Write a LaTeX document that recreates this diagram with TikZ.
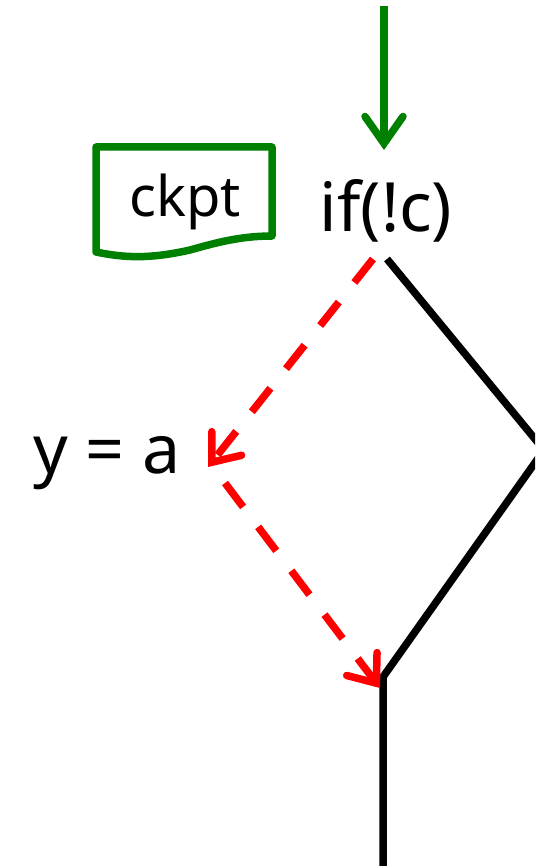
\documentclass[tikz,border=0pt]{standalone}
\usepackage{fontspec}
\setmainfont{Noto Sans}
\usetikzlibrary{arrows.meta}
\definecolor{grn}{RGB}{0,128,0}
\tikzset{
 lbl/.style={inner sep=0pt,anchor=base,text=black},
 blk/.style={draw=black,line width=7.5pt,line join=miter},
 redd/.style={draw=red,line width=7.5pt,dash pattern=on 30pt off 25pt,-{Straight Barb[length=24pt,width=38pt,line width=7.5pt,line cap=round,line join=miter]}},
}
\begin{document}
\begin{tikzpicture}[x=1pt,y=-1pt]
\useasboundingbox (0,0) rectangle (535,866);
\clip (0,0) rectangle (535,866);
\node[lbl,font=\fontsize{68}{72}\selectfont] (cond) at (386,232) {if(!c)};
\node[lbl,font=\fontsize{68}{72}\selectfont] (assign) at (107,473) {y = a};
\coordinate (ckpos) at (185,217);
\coordinate (top) at (384,6);
\coordinate (condtip) at (384,150);
\coordinate (right) at (544,450);
\coordinate (condr) at (387,259);
\coordinate (condl) at (373,259);
\coordinate (yin) at (208,467);
\coordinate (yout) at (225,483);
\coordinate (joinin) at (380,688);
\coordinate (join) at (383,677);
\coordinate (bot) at (383,866);
\draw[draw=grn,line width=7.5pt,-{Straight Barb[length=27pt,width=38pt,line width=7.5pt,line cap=round,line join=miter]}] (top) -- (condtip);
\draw[draw=grn,line width=7.5pt,line join=round,fill=white] (96,147) -- (272,147) -- (272,236) .. controls (240,236) and (215,243) .. (190,250) .. controls (150,259) and (125,258) .. (96,252) -- cycle;
\node[lbl,font=\fontsize{56}{60}\selectfont] (ck) at (ckpos) {ckpt};
\draw[blk] (condr) -- (right) -- (join) -- (bot);
\draw[redd] (condl) -- (yin);
\draw[redd] (yout) -- (joinin);
\end{tikzpicture}
\end{document}
